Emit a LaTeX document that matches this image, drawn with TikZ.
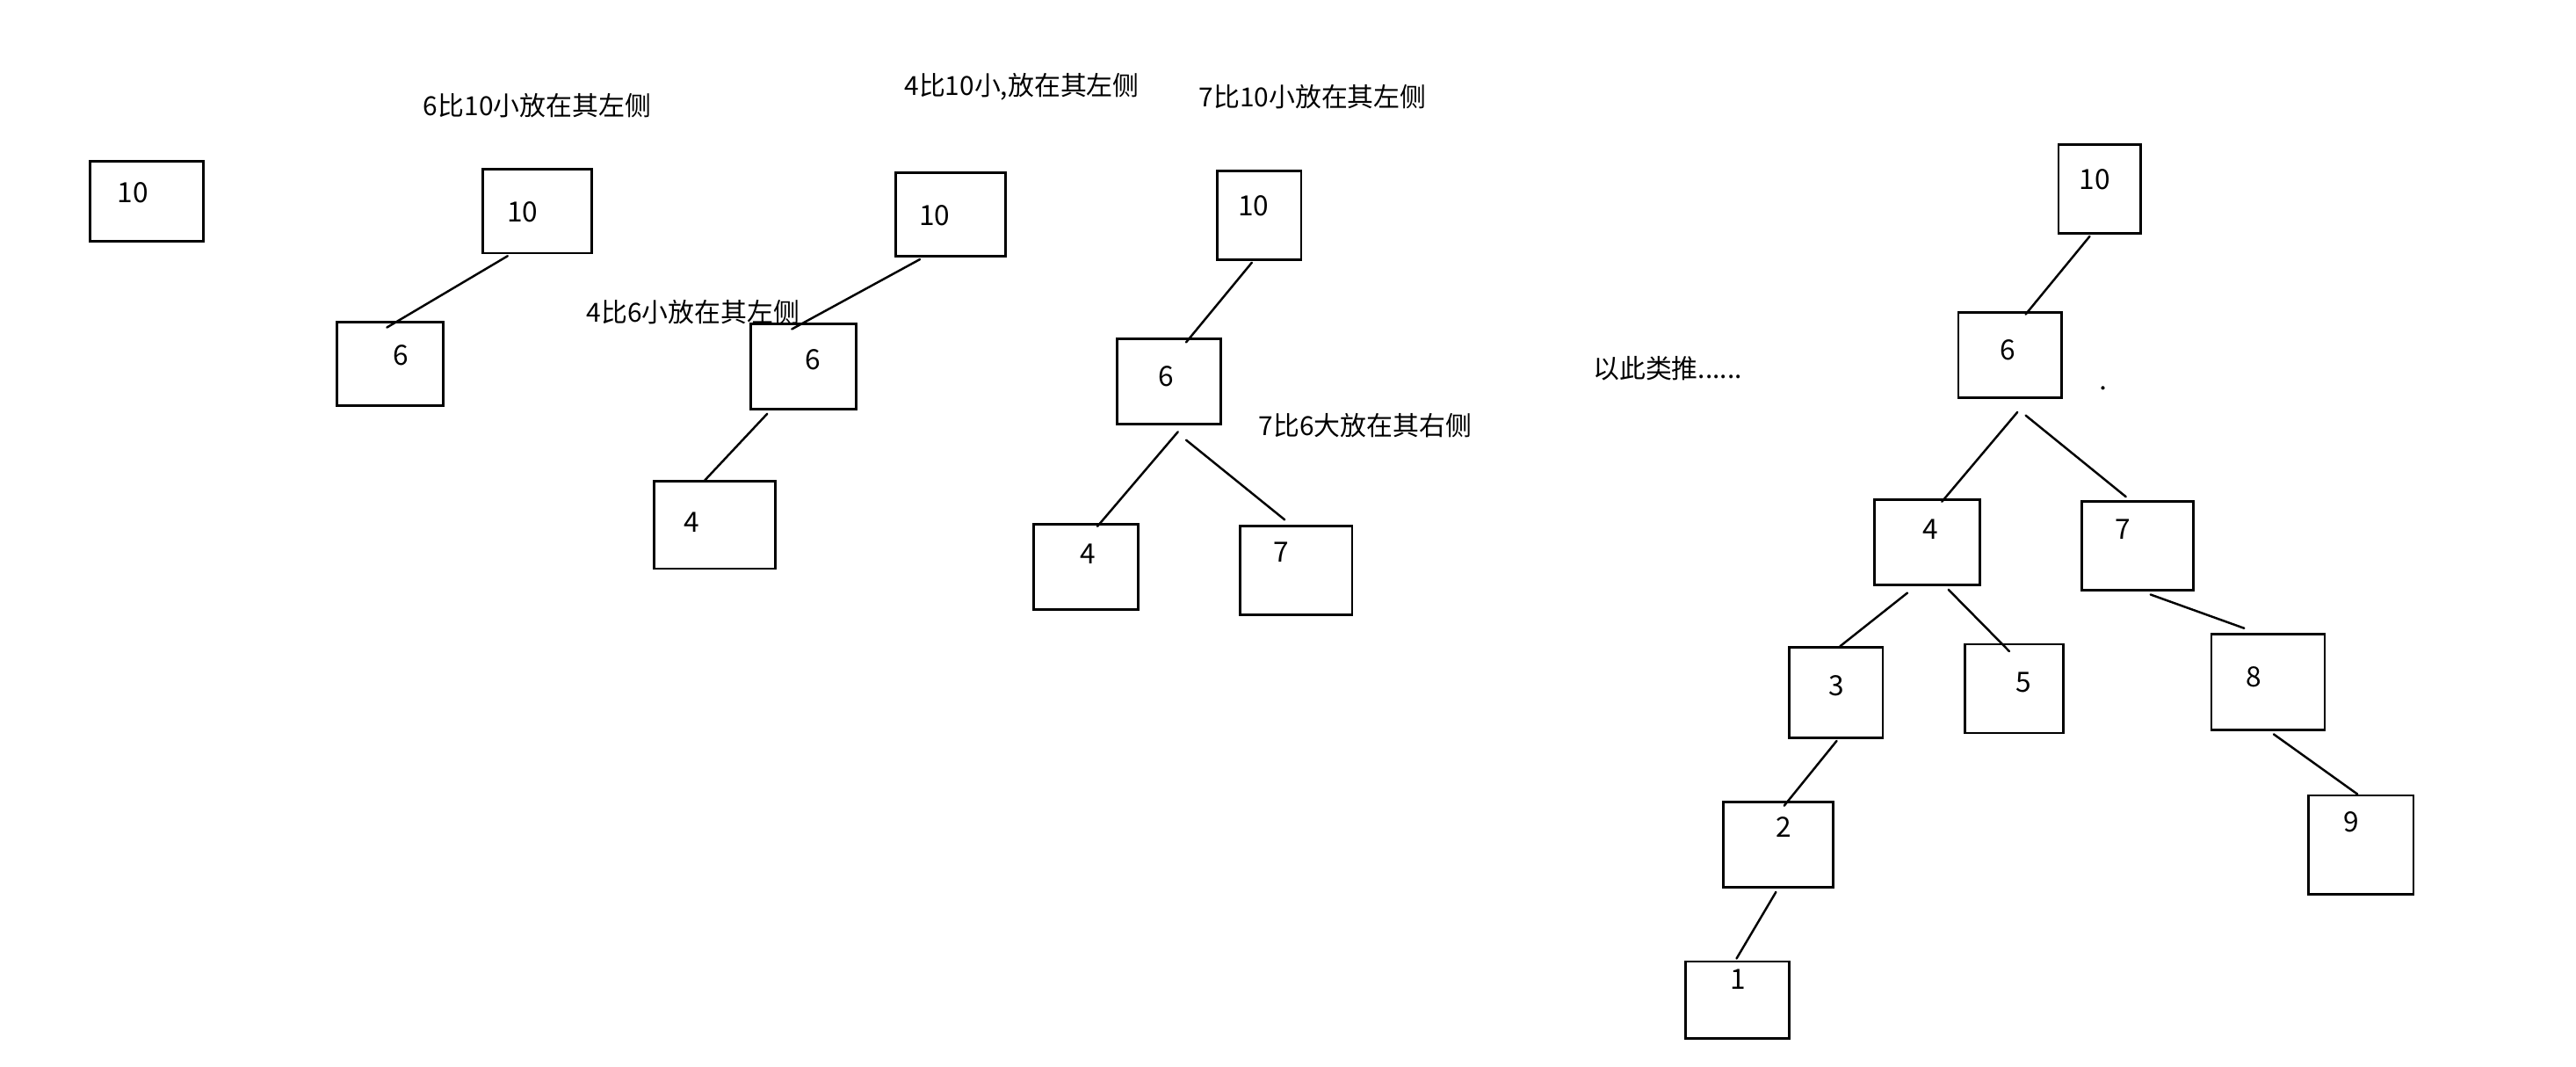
\documentclass[tikz,border=0pt]{standalone}
\usepackage{fontspec}
\newfontfamily\cjk{Noto Sans CJK SC}
\usetikzlibrary{fit,calc}

\begin{document}
\begin{tikzpicture}[x=0.018699cm,y=-0.018699cm,line cap=round,
  box/.style={draw,line width=0.8pt,inner sep=0pt},
  num/.style={font=\cjk\fontsize{9}{10}\selectfont,inner sep=0pt},
  remark/.style={font=\cjk\fontsize{8.5}{10}\selectfont,inner sep=0pt},
  link/.style={line width=0.7pt}]
\useasboundingbox (0,0) rectangle (1568,649);
% step 1: only the root
\node[box,fit={(55,98) (124,147)}] (t1a) {};
\node[num] (t1a-v) at (81,117) {10};
% step 2: 6 goes left of 10
\node[remark] (r2) at (327,64) {6比10小放在其左侧};
\node[box,fit={(294,103) (360,154)}] (t2a) {};
\node[num] (t2a-v) at (318,129) {10};
\node[box,fit={(205,196) (270,247)}] (t2b) {};
\node[num] (t2b-v) at (244,216) {6};
\draw[link] ($(t2a.south)+(-18,1)$) -- ($(t2b.north)+(-2,4)$);
% step 3: 4 goes left of 10, then left of 6
\node[remark] (r3a) at (622,53) {4比10小,放在其左侧};
\node[remark] (r3b) at (422,190) {4比6小放在其左侧};
\node[box,fit={(545,105) (612,156)}] (t3a) {};
\node[num] (t3a-v) at (569,131) {10};
\node[box,fit={(457,197) (521,249)}] (t3b) {};
\node[num] (t3b-v) at (495,219) {6};
\node[box,fit={(398,293) (472,346)}] (t3c) {};
\node[num] (t3c-v) at (421,318) {4};
\draw[link] ($(t3a.south)+(-18.5,1)$) -- ($(t3b.north)+(-7,4)$);
\draw[link] ($(t3b.south)+(-22,2)$) -- ($(t3c.north)+(-6,0)$);
% step 4: 7 goes left of 10, then right of 6
\node[remark] (r4a) at (799,59) {7比10小放在其左侧};
\node[remark] (r4b) at (831,259) {7比6大放在其右侧};
\node[box,fit={(741,104) (792,158)}] (t4a) {};
\node[num] (t4a-v) at (763,125) {10};
\node[box,fit={(680,206) (743,258)}] (t4b) {};
\node[num] (t4b-v) at (710,229) {6};
\node[box,fit={(629,319) (693,371)}] (t4c) {};
\node[num] (t4c-v) at (662,337) {4};
\node[box,fit={(755,320) (823,374)}] (t4d) {};
\node[num] (t4d-v) at (780,336) {7};
\draw[link] ($(t4a.south)+(-4.5,1)$) -- ($(t4b.north)+(10.5,3)$);
\draw[link] ($(t4b.south)+(5.5,4)$) -- ($(t4c.north)+(7,2)$);
\draw[link] ($(t4b.south)+(10.5,9)$) -- ($(t4d.north)+(-7,-3)$);
% and so on: the full tree
\node[remark] (r5) at (1015,224) {以此类推......};
\node[box,fit={(1253,88) (1303,142)}] (t5a) {};
\node[num] (t5a-v) at (1275,109) {10};
\node[box,fit={(1192,190) (1255,242)}] (t5b) {};
\node[num] (t5b-v) at (1222,213) {6};
\node[box,fit={(1141,304) (1205,356)}] (t5c) {};
\node[num] (t5c-v) at (1175,322) {4};
\node[box,fit={(1267,305) (1335,359)}] (t5d) {};
\node[num] (t5d-v) at (1292,322) {7};
\node[box,fit={(1089,394) (1146,449)}] (t5e) {};
\node[num] (t5e-v) at (1118,417) {3};
\node[box,fit={(1196,392) (1256,446)}] (t5f) {};
\node[num] (t5f-v) at (1232,415) {5};
\node[box,fit={(1346,386) (1415,444)}] (t5g) {};
\node[num] (t5g-v) at (1372,412) {8};
\node[box,fit={(1049,488) (1116,540)}] (t5h) {};
\node[num] (t5h-v) at (1086,503) {2};
\node[box,fit={(1026,585) (1089,632)}] (t5i) {};
\node[num] (t5i-v) at (1058,596) {1};
\node[box,fit={(1405,484) (1469,544)}] (t5j) {};
\node[num] (t5j-v) at (1431,500) {9};
\draw[link] ($(t5a.south)+(-6,1)$) -- ($(t5b.north)+(9.5,2)$);
\draw[link] ($(t5b.south)+(4.5,8)$) -- ($(t5c.north)+(9,2)$);
\draw[link] ($(t5b.south)+(9.5,10)$) -- ($(t5d.north)+(-7,-2)$);
\draw[link] ($(t5c.south)+(-12,4)$) -- ($(t5e.north)+(2.5,0)$);
\draw[link] ($(t5c.south)+(13,2)$) -- ($(t5f.north)+(-3,5)$);
\draw[link] ($(t5d.south)+(8,2)$) -- ($(t5g.north)+(-14.5,-3)$);
\draw[link] ($(t5e.south)+(0.5,1)$) -- ($(t5h.north)+(3.5,3)$);
\draw[link] ($(t5h.south)+(-1.5,2)$) -- ($(t5i.north)+(-0.5,-1)$);
\draw[link] ($(t5g.south)+(3.5,2)$) -- ($(t5j.north)+(-2,0)$);
\fill (1280,236) circle (0.6pt);
\end{tikzpicture}
\end{document}
